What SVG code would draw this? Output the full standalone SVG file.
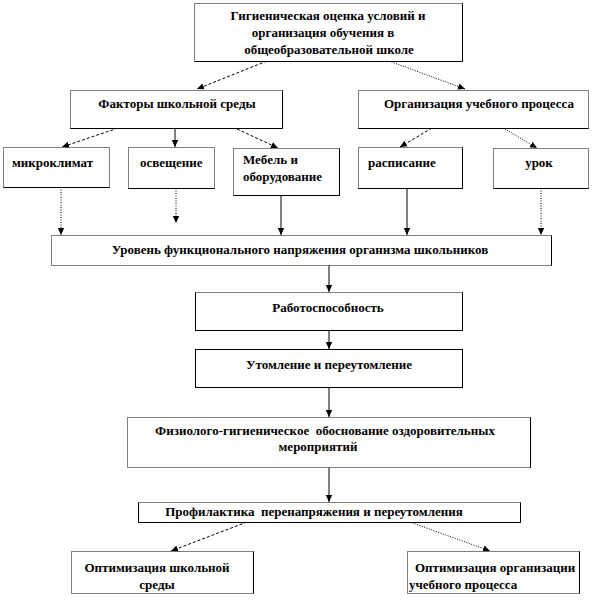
<svg xmlns="http://www.w3.org/2000/svg" width="592" height="602" viewBox="0 0 592 602">
<style>
.box{fill:#fff;stroke:#000;stroke-width:1;stroke-dasharray:1 1}
.sh{fill:none;stroke:#000;stroke-width:1}
text{font-family:"Liberation Serif","Times New Roman",serif;font-size:13px;font-weight:bold;fill:#000}
.c{text-anchor:middle}
.pre{white-space:pre}
.ln{fill:none;stroke:#000;stroke-width:1;marker-end:url(#ah)}
.da{stroke-dasharray:3 2}
.do{stroke-dasharray:1 1.5}
</style>
<defs>
<marker id="ah" markerWidth="8" markerHeight="8" refX="7" refY="4" orient="auto" markerUnits="userSpaceOnUse">
<path d="M0,0.8 L7,4 L0,7.2 z" fill="#000"/>
</marker>
</defs>
<rect width="592" height="602" fill="#fff"/>
<g id="connectors">
<line class="ln da" x1="267" y1="61" x2="197" y2="89"/>
<line class="ln do" x1="389" y1="61" x2="465" y2="89"/>
<line class="ln da" x1="118" y1="128" x2="62" y2="147"/>
<line class="ln" x1="175" y1="128" x2="175" y2="147"/>
<line class="ln da" x1="237" y1="129" x2="278" y2="148"/>
<line class="ln da" x1="432" y1="128" x2="400" y2="147"/>
<line class="ln do" x1="505" y1="129" x2="537" y2="148"/>
<line class="ln do" x1="61" y1="187" x2="61" y2="235"/>
<line class="ln do" x1="176" y1="188" x2="176" y2="223"/>
<line class="ln" x1="281" y1="195" x2="281" y2="235"/>
<line class="ln" x1="407" y1="188" x2="407" y2="235"/>
<line class="ln do" x1="541" y1="188" x2="541" y2="235"/>
<line class="ln" x1="329" y1="265" x2="329" y2="292"/>
<line class="ln" x1="329" y1="330" x2="329" y2="349"/>
<line class="ln" x1="329" y1="387" x2="329" y2="417"/>
<line class="ln" x1="329" y1="467" x2="329" y2="502"/>
<line class="ln da" x1="247" y1="522" x2="171" y2="551"/>
<line class="ln do" x1="410" y1="522" x2="490" y2="551"/>
</g>
<g id="n-top">
<rect class="box" x="194.5" y="3.5" width="268" height="58"/>
<path class="sh" d="M194.5,61.5 H462.5 V3.5"/>
<text class="c" x="328" y="20">Гигиеническая оценка условий и</text>
<text class="c" x="323" y="37">организация обучения в</text>
<text class="c" x="329" y="54">общеобразовательной школе</text>
</g>
<g id="n-factors">
<rect class="box" x="70.5" y="90.5" width="212" height="38"/>
<path class="sh" d="M70.5,128.5 H282.5 V90.5"/>
<text class="c" x="177" y="108">Факторы школьной среды</text>
</g>
<g id="n-org">
<rect class="box" x="358.5" y="90.5" width="230" height="38"/>
<path class="sh" d="M358.5,128.5 H588.5"/>
<text class="c" x="479" y="108">Организация учебного процесса</text>
</g>
<g id="n-micro">
<rect class="box" x="3.5" y="147.5" width="106" height="40"/>
<path class="sh" d="M3.5,187.5 H109.5"/>
<text x="12" y="167">микроклимат</text>
</g>
<g id="n-light">
<rect class="box" x="128.5" y="147.5" width="86" height="41"/>
<path class="sh" d="M128.5,188.5 H214.5"/>
<text x="140" y="167">освещение</text>
</g>
<g id="n-furn">
<rect class="box" x="233.5" y="148.5" width="106" height="47"/>
<path class="sh" d="M233.5,195.5 H339.5 V148.5"/>
<text x="243" y="164">Мебель и</text>
<text x="243" y="181">оборудование</text>
</g>
<g id="n-sched">
<rect class="box" x="358.5" y="147.5" width="104" height="41"/>
<path class="sh" d="M358.5,188.5 H462.5 V147.5"/>
<text x="368" y="167">расписание</text>
</g>
<g id="n-lesson">
<rect class="box" x="493.5" y="148.5" width="95" height="40"/>
<path class="sh" d="M493.5,188.5 H588.5"/>
<text class="c" x="539" y="167">урок</text>
</g>
<g id="n-level">
<rect class="box" x="51.5" y="235.5" width="500" height="30"/>
<path class="sh" d="M551.5,235.5 V265.5"/>
<text class="c" x="300" y="254">Уровень функционального напряжения организма школьников</text>
</g>
<g id="n-work">
<rect class="box" x="195.5" y="292.5" width="267" height="38"/>
<path class="sh" d="M195.5,292.5 V330.5 H462.5 V292.5"/>
<text class="c" x="328" y="312">Работоспособность</text>
</g>
<g id="n-fatigue">
<rect class="sh" x="195.5" y="349.5" width="267" height="38" fill="#fff"/>
<text class="c" x="329" y="369">Утомление и переутомление</text>
</g>
<g id="n-physio">
<rect class="box" x="127.5" y="417.5" width="403" height="50"/>
<path class="sh" d="M530.5,417.5 V467.5"/>
<text class="c pre" x="325" y="435">Физиолого-гигиеническое  обоснование оздоровительных</text>
<text class="c" x="318" y="451">мероприятий</text>
</g>
<g id="n-prev">
<rect class="box" x="138.5" y="502.5" width="382" height="20"/>
<path class="sh" d="M138.5,502.5 V522.5 H520.5 V502.5"/>
<text class="c pre" x="314" y="516">Профилактика  перенапряжения и переутомления</text>
</g>
<g id="n-optenv">
<rect class="box" x="71.5" y="551.5" width="182" height="42"/>
<path class="sh" d="M253.5,551.5 V593.5"/>
<text class="c" x="157" y="572">Оптимизация школьной</text>
<text class="c" x="157" y="589">среды</text>
</g>
<g id="n-optorg">
<rect class="box" x="407.5" y="551.5" width="172" height="42"/>
<path class="sh" d="M579.5,551.5 V593.5"/>
<text x="415" y="572">Оптимизация организации</text>
<text x="409" y="589">учебного процесса</text>
</g>
</svg>
